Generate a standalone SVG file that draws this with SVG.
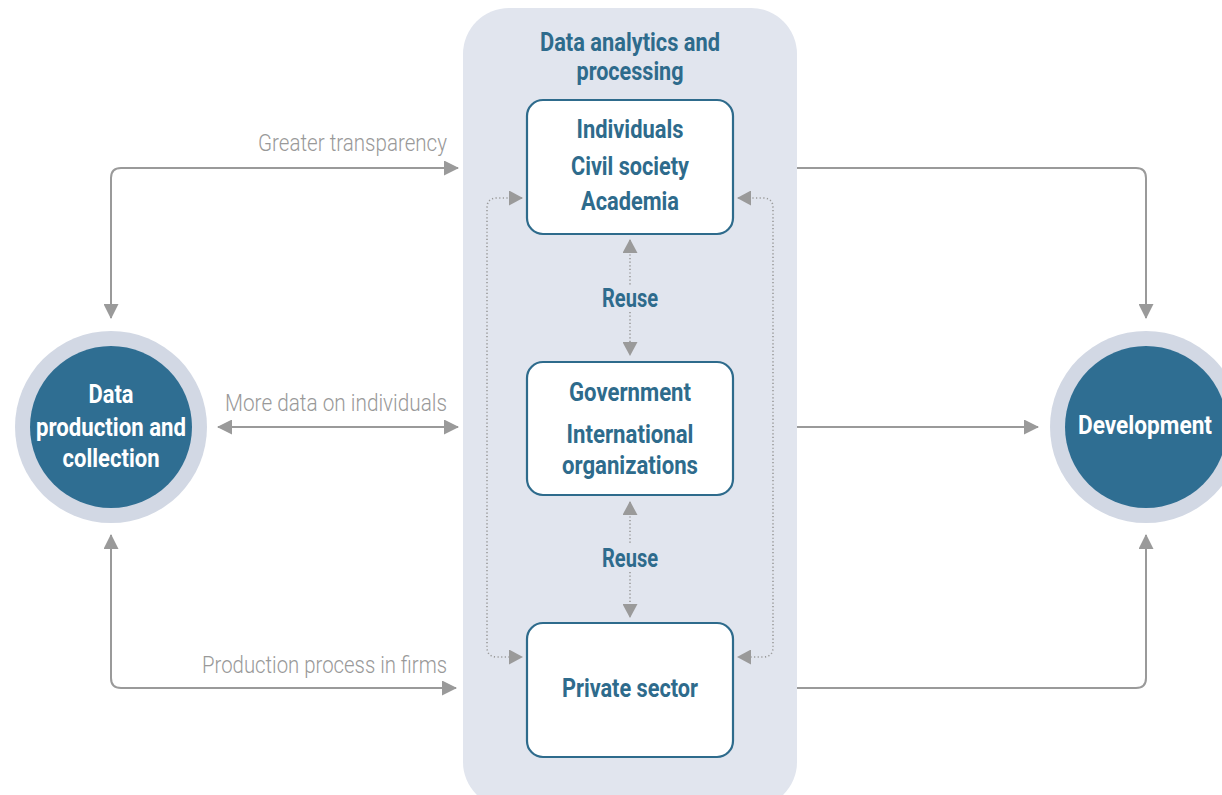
<svg xmlns="http://www.w3.org/2000/svg" width="1222" height="795" viewBox="0 0 1222 795">
<defs>
<style>
.panel{fill:#e1e5ee}
.box{fill:#ffffff;stroke:#2e6b8c;stroke-width:2.2}
.ring{fill:#d2d8e4}
.core{fill:#2f6e92}
.t{font-family:Roboto,"Liberation Sans",sans-serif;font-weight:700;fill:#2e6b8c;font-size:26px;text-anchor:middle}
.w{font-family:Roboto,"Liberation Sans",sans-serif;font-weight:700;fill:#ffffff;font-size:26px;text-anchor:middle}
.g{font-family:Roboto,"Liberation Sans",sans-serif;font-weight:300;fill:#999999;font-size:24px;text-anchor:end}
.solid{fill:none;stroke:#9a9a9a;stroke-width:2}
.dot{fill:none;stroke:#9a9a9a;stroke-width:1.6;stroke-dasharray:1.2 2.4}
</style>
<marker id="ah" markerUnits="userSpaceOnUse" markerWidth="15" markerHeight="15" viewBox="0 0 15 15" refX="14" refY="7.5" orient="auto-start-reverse"><path d="M0,0 L15,7.5 L0,15 Z" fill="#9a9a9a"/></marker>
<marker id="ad" markerUnits="userSpaceOnUse" markerWidth="14" markerHeight="15" viewBox="0 0 14 15" refX="13" refY="7.5" orient="auto-start-reverse"><path d="M0,0 L14,7.5 L0,15 Z" fill="#9a9a9a"/></marker>
</defs>
<rect width="1222" height="795" fill="#ffffff"/>

<g id="panel">
<rect class="panel" x="463" y="8" width="334" height="800" rx="46"/>
<text class="t" x="630" y="51" textLength="180" lengthAdjust="spacingAndGlyphs">Data analytics and</text>
<text class="t" x="630" y="80" textLength="107" lengthAdjust="spacingAndGlyphs">processing</text>
</g>

<g id="connectors">
<path class="solid" d="M458,168 H121 Q111,168 111,178 V318" marker-start="url(#ah)" marker-end="url(#ah)"/>
<path class="solid" d="M797,168 H1136 Q1146,168 1146,178 V318" marker-end="url(#ah)"/>
<path class="solid" d="M218,427 H458" marker-start="url(#ah)" marker-end="url(#ah)"/>
<path class="solid" d="M797,427 H1038" marker-end="url(#ah)"/>
<path class="solid" d="M111,535 V678 Q111,688 121,688 H456" marker-start="url(#ah)" marker-end="url(#ah)"/>
<path class="solid" d="M797,688 H1136 Q1146,688 1146,678 V535" marker-end="url(#ah)"/>
<path class="dot" d="M522,198 H497 Q487,198 487,208 V647 Q487,657 497,657 H522" marker-start="url(#ad)" marker-end="url(#ad)"/>
<path class="dot" d="M738,198 H763 Q773,198 773,208 V647 Q773,657 763,657 H738" marker-start="url(#ad)" marker-end="url(#ad)"/>
<path class="dot" d="M630,240 V285" marker-start="url(#ad)"/>
<path class="dot" d="M630,312 V355" marker-end="url(#ad)"/>
<path class="dot" d="M630,502 V545" marker-start="url(#ad)"/>
<path class="dot" d="M630,572 V617" marker-end="url(#ad)"/>
<text class="g" x="447" y="151" textLength="189" lengthAdjust="spacingAndGlyphs">Greater transparency</text>
<text class="g" x="447" y="411" textLength="222" lengthAdjust="spacingAndGlyphs">More data on individuals</text>
<text class="g" x="447" y="673" textLength="245" lengthAdjust="spacingAndGlyphs">Production process in firms</text>
<text class="t" x="630" y="307" textLength="56" lengthAdjust="spacingAndGlyphs">Reuse</text>
<text class="t" x="630" y="567" textLength="56" lengthAdjust="spacingAndGlyphs">Reuse</text>
</g>

<g id="node-individuals">
<rect class="box" x="527" y="100" width="206" height="134" rx="16"/>
<text class="t" x="630" y="138" textLength="107" lengthAdjust="spacingAndGlyphs">Individuals</text>
<text class="t" x="630" y="175" textLength="118" lengthAdjust="spacingAndGlyphs">Civil society</text>
<text class="t" x="630" y="210" textLength="98" lengthAdjust="spacingAndGlyphs">Academia</text>
</g>

<g id="node-government">
<rect class="box" x="527" y="362" width="206" height="133" rx="16"/>
<text class="t" x="630" y="401" textLength="122" lengthAdjust="spacingAndGlyphs">Government</text>
<text class="t" x="630" y="443" textLength="127" lengthAdjust="spacingAndGlyphs">International</text>
<text class="t" x="630" y="474" textLength="136" lengthAdjust="spacingAndGlyphs">organizations</text>
</g>

<g id="node-private">
<rect class="box" x="527" y="623" width="206" height="134" rx="16"/>
<text class="t" x="630" y="697" textLength="136" lengthAdjust="spacingAndGlyphs">Private sector</text>
</g>

<g id="node-data-production">
<circle class="ring" cx="111" cy="427" r="96"/>
<circle class="core" cx="111" cy="427" r="81"/>
<text class="w" x="111" y="403" textLength="45" lengthAdjust="spacingAndGlyphs">Data</text>
<text class="w" x="111" y="436" textLength="150" lengthAdjust="spacingAndGlyphs">production and</text>
<text class="w" x="111" y="467" textLength="97" lengthAdjust="spacingAndGlyphs">collection</text>
</g>

<g id="node-development">
<circle class="ring" cx="1146" cy="427" r="96"/>
<circle class="core" cx="1146" cy="427" r="81"/>
<text class="w" x="1145" y="434" textLength="134" lengthAdjust="spacingAndGlyphs">Development</text>
</g>
</svg>
